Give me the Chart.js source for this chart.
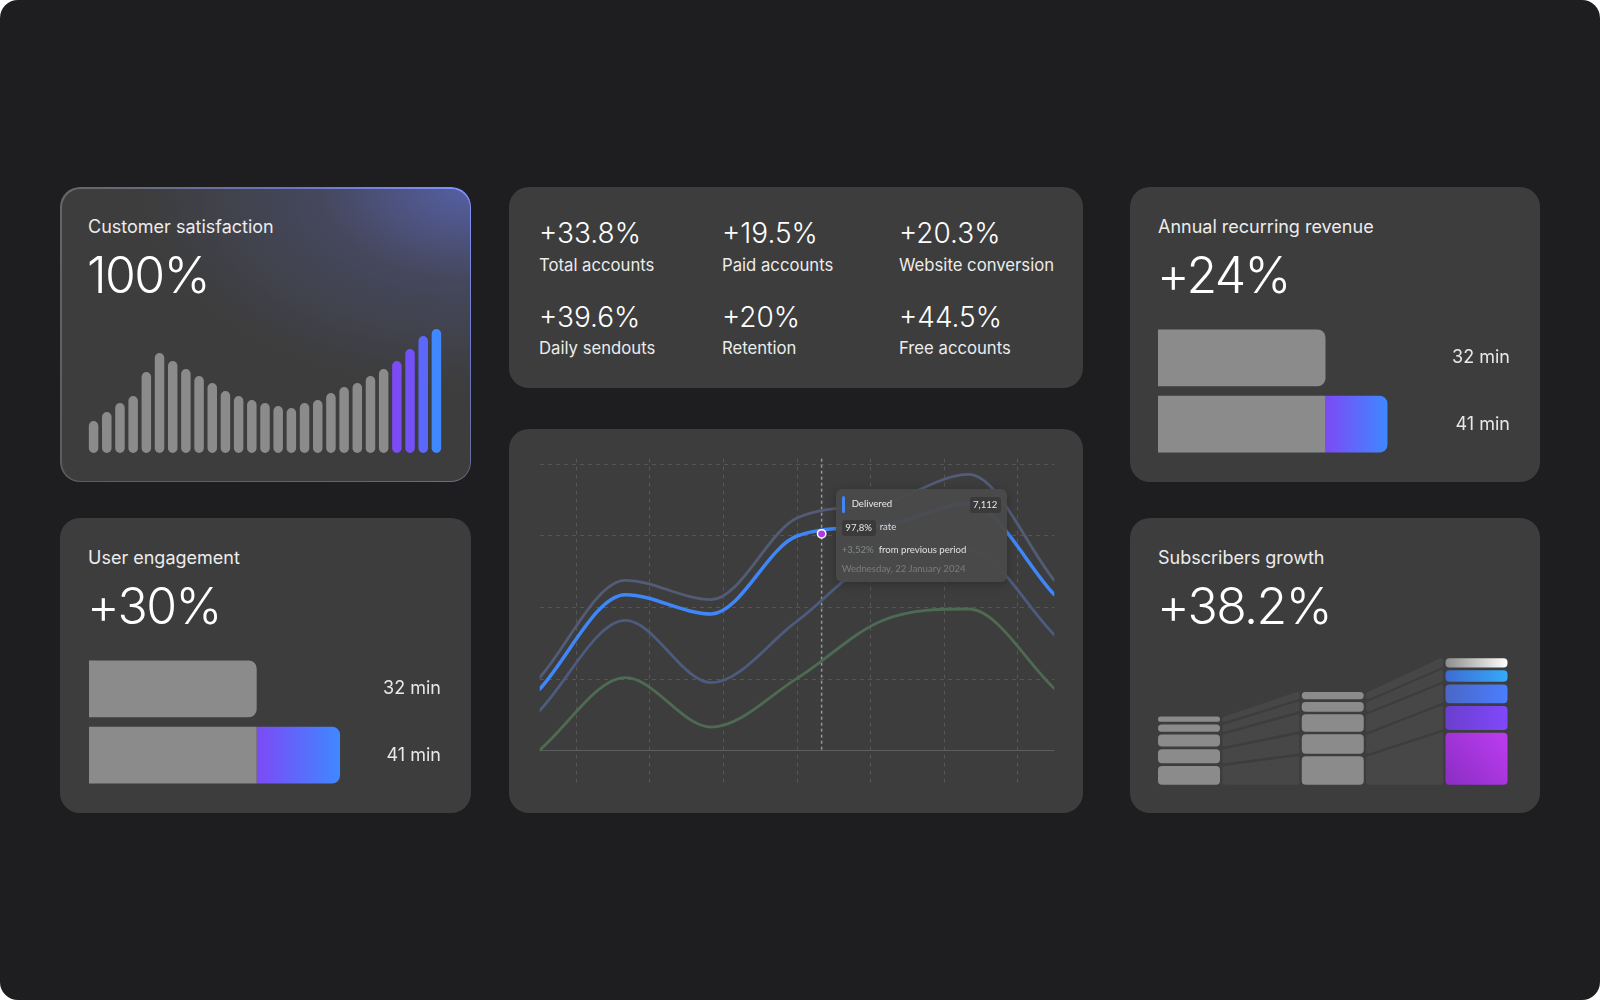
<!DOCTYPE html>
<html>
<head>
<meta charset="utf-8">
<title>Dashboard</title>
<script src="https://cdn.jsdelivr.net/npm/chart.js@4.4.1/dist/chart.umd.min.js"></script>
<style>
  html, body { margin: 0; padding: 0; background: #ffffff; }
  body { width: 1600px; height: 1000px; overflow: hidden; font-family: Inter, 'Noto Sans', sans-serif; }
  .frame { position: absolute; left: 0; top: 0; width: 1600px; height: 1000px; background: #1e1e20; border-radius: 18px; }
  .card { position: absolute; background: #3d3d3d; border-radius: 20px; }
  .title { position: absolute; left: 28px; top: 31px; font-size: 18px; line-height: 1; color: #ececec; white-space: nowrap; }
  .big { position: absolute; left: 27px; top: 63px; font-size: 50px; font-weight: 300; line-height: 1; color: #ffffff; white-space: nowrap; letter-spacing: -1.6px; }
  canvas { position: absolute; }

  #satCard {
    background:
      radial-gradient(ellipse 330px 200px at 100% 0%, rgba(98, 112, 214, 0.68) 0%, rgba(88, 98, 170, 0.3) 45%, rgba(61, 61, 61, 0) 100%),
      #3d3d3d;
  }
  #satCard::before {
    content: ''; position: absolute; inset: 0; border-radius: 20px; padding: 1.5px;
    background: linear-gradient(225deg, #8393ff 0%, #6a76c4 25%, #666666 55%, #5c5c5c 100%);
    -webkit-mask: linear-gradient(#000 0 0) content-box, linear-gradient(#000 0 0);
    -webkit-mask-composite: xor; mask-composite: exclude;
  }

  .stat-value { position: absolute; font-size: 28px; font-weight: 300; line-height: 1; color: #ffffff; white-space: nowrap; }
  .stat-label { position: absolute; font-size: 16.7px; line-height: 1; color: #ececec; white-space: nowrap; }

  #tip {
    position: absolute; width: 171px; height: 93px; border-radius: 6px;
    background: rgba(74, 74, 74, 0.95); box-shadow: 0 2px 10px rgba(0, 0, 0, 0.25);
    font-family: Lato, 'Noto Sans', sans-serif; font-size: 9.6px; color: #e6e6e6;
  }
  #tip .t { position: absolute; line-height: 1; white-space: nowrap; }
  #tip .mark { position: absolute; left: 6px; top: 7px; width: 3px; height: 17px; border-radius: 2px; background: #3f86f8; }
  #tip .pill { position: absolute; height: 16px; line-height: 16px; border-radius: 3px; background: #3a3a3a; text-align: center; color: #e6e6e6; }
</style>
</head>
<body>
<div class="frame">

  <div class="card" id="satCard" style="left:60px; top:187px; width:411px; height:295px;">
    <div class="title">Customer satisfaction</div>
    <div class="big">100%</div>
    <canvas id="sat-chart" width="356" height="128" style="left:27px; top:138px;"></canvas>
  </div>

  <div class="card" style="left:60px; top:518px; width:411px; height:295px;">
    <div class="title">User engagement</div>
    <div class="big">+30%</div>
    <canvas id="engagement-chart" width="352" height="154" style="left:29px; top:127px;"></canvas>
  </div>

  <div class="card" id="statsCard" style="left:509px; top:187px; width:574px; height:201px;"></div>

  <div class="card" id="lineCard" style="left:509px; top:429px; width:574px; height:384px;">
    <canvas id="delivery-chart" width="526" height="336" style="left:25px; top:24px;"></canvas>
    <div id="tip">
      <div class="mark"></div>
      <div class="t" style="left:16px; top:10px; color:#e8e8e8;">Delivered</div>
      <div class="pill" style="left:134px; top:8px; width:31px;">7,112</div>
      <div class="pill" style="left:6px; top:31px; width:34px;">97,8%</div>
      <div class="t" style="left:44px; top:33px; color:#dddddd;">rate</div>
      <div class="t" style="left:6px; top:56px; color:#7d8c82;">+3,52%</div>
      <div class="t" style="left:43px; top:56px; color:#e0e0e0;">from previous period</div>
      <div class="t" style="left:6px; top:75px; color:#7c7c7c;">Wednesday, 22 January 2024</div>
    </div>
  </div>

  <div class="card" style="left:1130px; top:187px; width:410px; height:295px;">
    <div class="title">Annual recurring revenue</div>
    <div class="big">+24%</div>
    <canvas id="revenue-chart" width="352" height="154" style="left:28px; top:127px;"></canvas>
  </div>

  <div class="card" style="left:1130px; top:518px; width:410px; height:295px;">
    <div class="title">Subscribers growth</div>
    <div class="big">+38.2%</div>
    <canvas id="subs-chart" width="360" height="130" style="left:20px; top:138px;"></canvas>
  </div>

</div>

<script>
// ---------- data ----------

// Customer satisfaction, one bar per day
const satValues = [32, 41, 50, 57, 81, 100, 92, 84, 77, 70, 62, 57, 53, 50, 47, 45, 50, 53, 60, 66, 70, 77, 84, 92, 104, 117, 124];
const satLabels = satValues.map((_, i) => String(i + 1));

// KPI tiles
const statValues = ['+33.8%', '+19.5%', '+20.3%', '+39.6%', '+20%', '+44.5%'];
const statLabels = ['Total accounts', 'Paid accounts', 'Website conversion', 'Daily sendouts', 'Retention', 'Free accounts'];

// Session time bars (previous / current)
const timeLabels = ['32 min', '41 min'];
const engagementBase = [32, 32];
const engagementGain = [0, 9];
const revenueBase = [32, 32];
const revenueGain = [0, 9];

// Delivery line chart
const lineX = [0, 2.33, 4.67, 7, 9.33, 11.67, 14];
const sentSeries = [1.02, 2.38, 2.11, 3.25, 3.45, 3.86, 2.38];
const deliveredSeries = [0.86, 2.18, 1.91, 3.0, 3.15, 3.45, 2.18];
const openedSeries = [0.56, 1.82, 0.95, 1.81, 2.7, 2.8, 1.62];
const clickedSeries = [0.01, 1.02, 0.33, 1.01, 1.82, 1.98, 0.87];
const gridX = [1, 3, 5, 7, 9, 11, 13];
const gridY = [0, 1, 2, 3, 4];
const hoverPoint = { x: 7.67, y: 3.03 };

// Subscribers growth, stacked tiers (bottom to top)
const subsPeriods = ['P1', 'P2', 'P3'];
const subsTier1 = [21.4, 31, 54.7];
const subsTier2 = [16.7, 22, 26.7];
const subsTier3 = [14.7, 20, 21.4];
const subsTier4 = [10, 12.4, 14.4];
const subsTier5 = [8, 10, 12];

// ---------- styles ----------
const BAR_GRAY = '#8b8b8b';
const SAT_ACCENTS = ['#7b4bf5', '#7450f8', '#5b68fb', '#3f88ff'];
const GRID_COLOR = '#565656';
const TIER_GRADIENTS = [
  ['#8a2dc2', '#bd3df2'],
  ['#6a3fce', '#8048fc'],
  ['#4a67c6', '#4a7eff'],
  ['#3e6bd2', '#36aaf8'],
  ['#8d8d8d', '#ffffff']
];

const baseOptions = {
  responsive: false,
  animation: false,
  events: [],
  plugins: { legend: { display: false }, tooltip: { enabled: false } }
};

// KPI tiles
function renderStats() {
  const card = document.getElementById('statsCard');
  const cols = [30, 213, 390];
  const rows = [[32, 70], [115.5, 153]];
  statValues.forEach((value, i) => {
    const col = cols[i % 3];
    const [vTop, lTop] = rows[Math.floor(i / 3)];
    const v = document.createElement('div');
    v.className = 'stat-value';
    v.style.left = col + 'px';
    v.style.top = vTop + 'px';
    v.textContent = value;
    const l = document.createElement('div');
    l.className = 'stat-label';
    l.style.left = col + 'px';
    l.style.top = lTop + 'px';
    l.textContent = statLabels[i];
    card.appendChild(v);
    card.appendChild(l);
  });
}

// Customer satisfaction bars
function renderSatChart() {
  const ctx = document.getElementById('sat-chart');
  const n = satValues.length;
  new Chart(ctx, {
    type: 'bar',
    data: {
      labels: satLabels,
      datasets: [{
        data: satValues,
        backgroundColor: (c) => c.dataIndex >= n - SAT_ACCENTS.length
          ? SAT_ACCENTS[c.dataIndex - (n - SAT_ACCENTS.length)]
          : BAR_GRAY,
        borderRadius: 5,
        borderSkipped: false,
        barPercentage: 0.72,
        categoryPercentage: 1,
        inflateAmount: 0
      }]
    },
    options: {
      ...baseOptions,
      scales: {
        x: { display: false },
        y: { display: false, min: 0, max: 128 }
      }
    }
  });
}

// Previous vs current session time (stacked horizontal)
function renderTimeBars(id, base, gain, xMin, xMax) {
  const ctx = document.getElementById(id);
  const R = 8;

  function gainFill(c) {
    const chart = c.chart;
    const x = chart.scales.x;
    if (!chart.chartArea || !x) return '#6a5cff';
    const start = base[c.dataIndex];
    const end = start + gain[c.dataIndex];
    const g = chart.ctx.createLinearGradient(x.getPixelForValue(start), 0, x.getPixelForValue(end), 0);
    g.addColorStop(0, '#7c4af6');
    g.addColorStop(1, '#3f88ff');
    return g;
  }

  const barShape = { barPercentage: 0.86, categoryPercentage: 1, borderSkipped: false, inflateAmount: 0 };

  new Chart(ctx, {
    type: 'bar',
    data: {
      labels: timeLabels,
      datasets: [
        {
          data: base,
          backgroundColor: BAR_GRAY,
          ...barShape,
          borderRadius: (c) => c.dataIndex === 0
            ? { topLeft: R, bottomLeft: R, topRight: R, bottomRight: R }
            : { topLeft: R, bottomLeft: R, topRight: 0, bottomRight: 0 }
        },
        {
          data: gain,
          backgroundColor: gainFill,
          ...barShape,
          borderRadius: { topLeft: 0, bottomLeft: 0, topRight: R, bottomRight: R }
        }
      ]
    },
    options: {
      ...baseOptions,
      indexAxis: 'y',
      scales: {
        // the reference bars start from a cut axis
        x: { stacked: true, display: false, min: xMin, max: xMax },
        y: {
          stacked: true,
          position: 'right',
          grid: { display: false, drawTicks: false },
          border: { display: false },
          ticks: {
            mirror: true,
            padding: 0,
            color: '#e8e8e8',
            font: { family: 'Inter', size: 18 }
          }
        }
      }
    }
  });
}

// Delivery line chart
function renderDeliveryChart() {
  const ctx = document.getElementById('delivery-chart');
  const toPoints = (ys) => ys.map((y, i) => ({ x: lineX[i], y }));

  const lineStyle = {
    pointRadius: 0,
    fill: false,
    cubicInterpolationMode: 'monotone',
    borderCapStyle: 'round',
    borderJoinStyle: 'round'
  };

  const crosshair = {
    id: 'crosshair',
    beforeDatasetsDraw(chart) {
      const { ctx: c, chartArea, scales } = chart;
      const x = scales.x.getPixelForValue(hoverPoint.x);
      c.save();
      c.strokeStyle = 'rgba(190, 190, 190, 0.7)';
      c.lineWidth = 1.5;
      c.setLineDash([3, 3]);
      c.beginPath();
      c.moveTo(x, chartArea.top);
      c.lineTo(x, scales.y.getPixelForValue(0));
      c.stroke();
      c.restore();
    }
  };

  const tipPlacement = {
    id: 'tipPlacement',
    afterDraw(chart) {
      const el = chart.getDatasetMeta(0).data[0];
      const tip = document.getElementById('tip');
      tip.style.left = (chart.canvas.offsetLeft + el.x + 14) + 'px';
      tip.style.top = (chart.canvas.offsetTop + el.y - 45) + 'px';
    }
  };

  new Chart(ctx, {
    type: 'line',
    data: {
      datasets: [
        {
          label: 'Hover',
          data: [hoverPoint],
          showLine: false,
          pointRadius: 4.2,
          pointBackgroundColor: '#a93ee8',
          pointBorderColor: '#ffffff',
          pointBorderWidth: 1.5,
          order: 0
        },
        { label: 'Delivered', data: toPoints(deliveredSeries), borderColor: '#3f86f8', borderWidth: 3.5, order: 1, ...lineStyle },
        { label: 'Sent', data: toPoints(sentSeries), borderColor: '#535c76', borderWidth: 2.8, order: 2, ...lineStyle },
        { label: 'Opened', data: toPoints(openedSeries), borderColor: '#4c5b7e', borderWidth: 2.8, order: 3, ...lineStyle },
        { label: 'Clicked', data: toPoints(clickedSeries), borderColor: '#4d6b53', borderWidth: 2.8, order: 4, ...lineStyle }
      ]
    },
    options: {
      ...baseOptions,
      layout: { padding: 4 },
      scales: {
        x: {
          type: 'linear',
          min: 0,
          max: 14,
          afterBuildTicks: (axis) => { axis.ticks = gridX.map(v => ({ value: v })); },
          ticks: { display: false },
          grid: { color: GRID_COLOR, lineWidth: 1, drawTicks: false },
          border: { display: false, dash: [4, 4] }
        },
        y: {
          min: -0.456,
          max: 4.08,
          afterBuildTicks: (axis) => { axis.ticks = gridY.map(v => ({ value: v })); },
          ticks: { display: false },
          grid: {
            color: (c) => (c.tick && c.tick.value === 0 ? '#5e5e5e' : GRID_COLOR),
            lineWidth: 1,
            drawTicks: false
          },
          border: {
            display: false,
            dash: (c) => (c.tick && c.tick.value === 0 ? [] : [4, 4])
          }
        }
      }
    },
    plugins: [crosshair, tipPlacement]
  });
}

// Subscribers growth: stacked tiers with slanted connectors
function visibleBox(bar, inset) {
  const { x, y, base, width } = bar.getProps(['x', 'y', 'base', 'width'], true);
  return {
    left: x - width / 2 + inset,
    right: x + width / 2 - inset,
    top: Math.min(y, base) + inset,
    bottom: Math.max(y, base) - inset
  };
}

function renderSubsChart() {
  const ctx = document.getElementById('subs-chart');
  const tiers = [subsTier1, subsTier2, subsTier3, subsTier4, subsTier5];
  const INSET = 1.35;

  function tierFill(c, t) {
    if (c.dataIndex < subsPeriods.length - 1) return BAR_GRAY;
    const chart = c.chart;
    if (!chart.chartArea) return TIER_GRADIENTS[t][1];
    const cx = chart.scales.x.getPixelForValue(c.dataIndex);
    const bottom = chart.chartArea.bottom;
    const g = t === 0
      ? chart.ctx.createLinearGradient(cx - 31, bottom, cx + 31, bottom - 55)
      : chart.ctx.createLinearGradient(cx - 31, 0, cx + 31, 0);
    g.addColorStop(0, TIER_GRADIENTS[t][0]);
    g.addColorStop(1, TIER_GRADIENTS[t][1]);
    return g;
  }

  const connectors = {
    id: 'connectors',
    beforeDatasetsDraw(chart) {
      const c = chart.ctx;
      c.save();
      c.fillStyle = '#474747';
      c.strokeStyle = '#474747';
      c.lineWidth = 4;
      c.lineJoin = 'round';
      chart.data.datasets.forEach((ds, i) => {
        const bars = chart.getDatasetMeta(i).data;
        for (let j = 0; j < bars.length - 1; j++) {
          const a = visibleBox(bars[j], INSET);
          const b = visibleBox(bars[j + 1], INSET);
          const x0 = a.right + 4.4;
          const x1 = b.left - 4.4;
          c.beginPath();
          c.moveTo(x0, a.top + 2);
          c.lineTo(x1, b.top + 2);
          c.lineTo(x1, b.bottom - 2);
          c.lineTo(x0, a.bottom - 2);
          c.closePath();
          c.fill();
          c.stroke();
        }
      });
      c.restore();
    }
  };

  new Chart(ctx, {
    type: 'bar',
    data: {
      labels: subsPeriods,
      datasets: tiers.map((data, t) => ({
        label: 'Tier ' + (t + 1),
        data,
        backgroundColor: (c) => tierFill(c, t),
        borderSkipped: false,
        borderRadius: (c) => {
          const r = Math.max(1, Math.min(4, (c.raw - 2 * INSET) / 2));
          return { topLeft: r, topRight: r, bottomLeft: r, bottomRight: r };
        },
        inflateAmount: -INSET,
        barThickness: 64.7,
        clip: false
      }))
    },
    options: {
      ...baseOptions,
      layout: { padding: { left: 39, right: 33.5, top: 0, bottom: 0 } },
      scales: {
        x: { stacked: true, display: false, offset: false },
        y: { stacked: true, display: false, min: 0, max: 130 }
      }
    },
    plugins: [connectors]
  });
}

renderStats();
renderSatChart();
renderTimeBars('engagement-chart', engagementBase, engagementGain, 13.89, 51.9);
renderTimeBars('revenue-chart', revenueBase, revenueGain, 7.67, 58.8);
renderDeliveryChart();
renderSubsChart();
</script>
</body>
</html>
